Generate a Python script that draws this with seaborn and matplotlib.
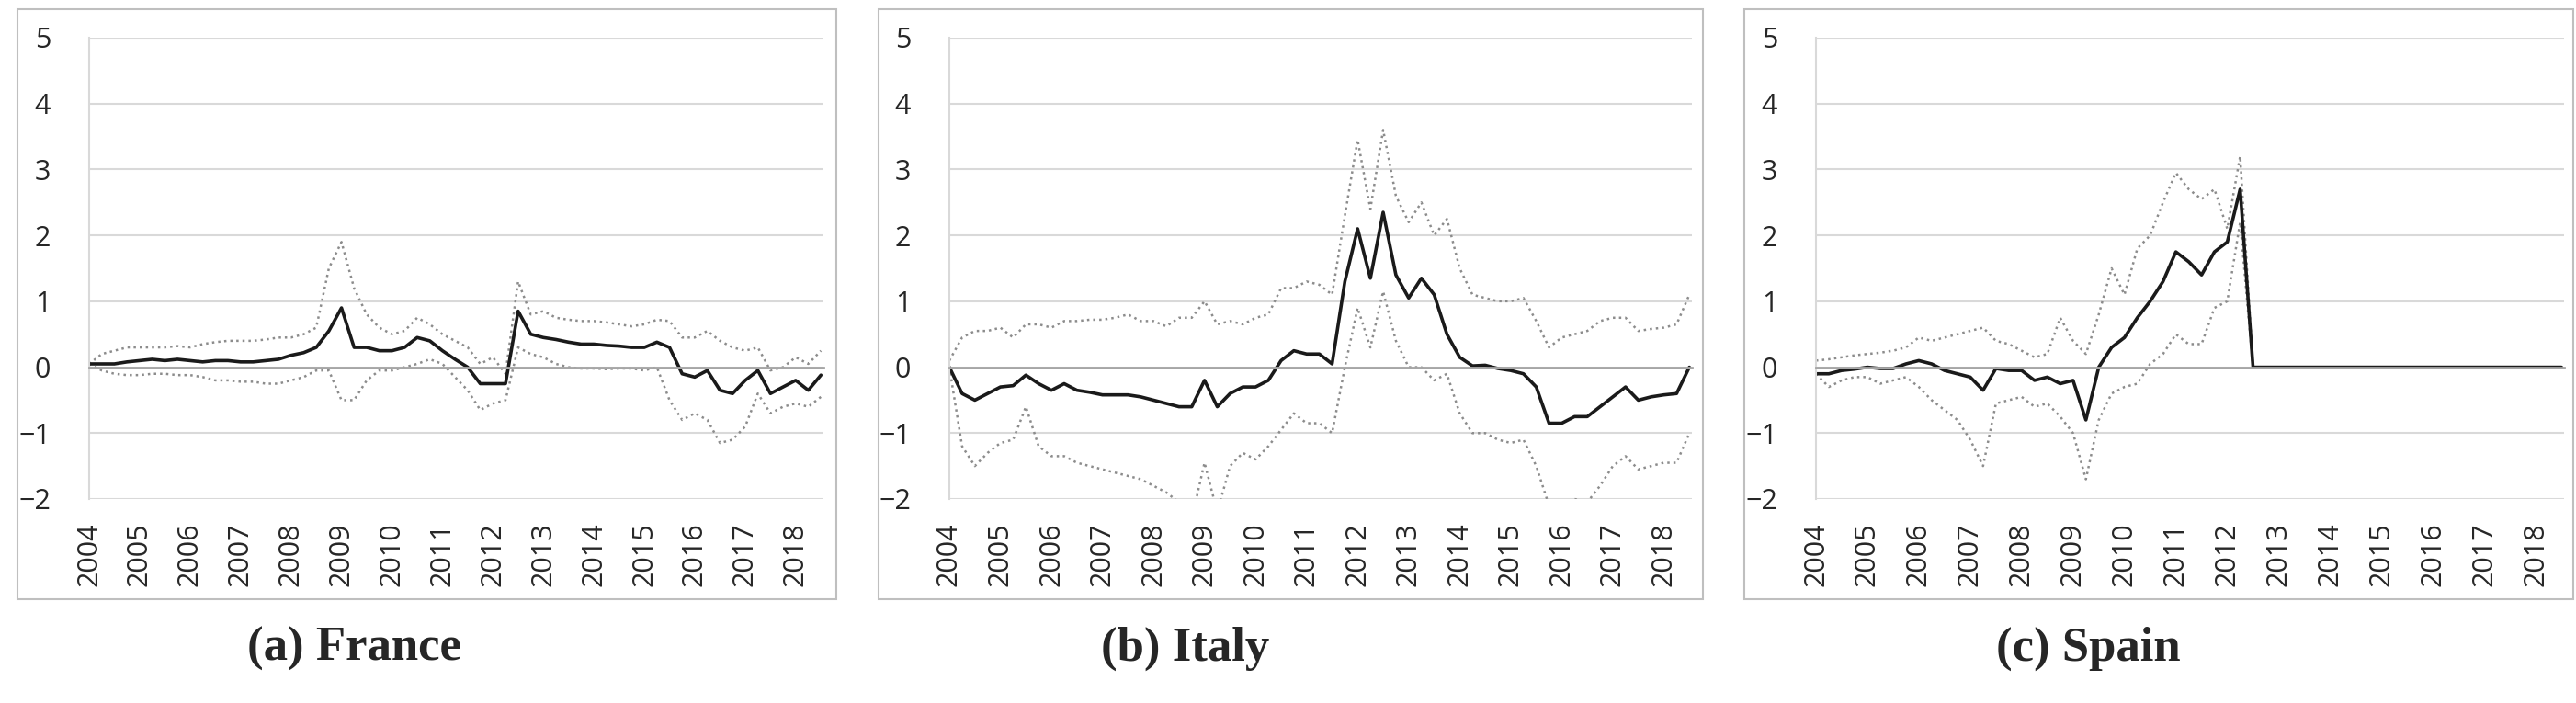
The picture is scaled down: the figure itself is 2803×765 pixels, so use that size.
import numpy as np
import pandas as pd
import matplotlib
matplotlib.use('Agg')
import matplotlib.pyplot as plt
import seaborn as sns

# quarterly dates, Jan 2004 .. mid 2018
dates = [2004 + q / 4 for q in range(59)]
years = list(range(2004, 2019))

france_mean = [.05, .05, .05, .08, .1, .12, .1, .12, .1, .08, .1, .1, .08, .08, .1, .12,
               .18, .22, .3, .55, .9, .3, .3, .25, .25, .3, .45, .4, .25, .12, 0, -.25,
               -.25, -.25, .85, .5, .45, .42, .38, .35, .35, .33, .32, .3, .3, .38, .3, -.1,
               -.15, -.05, -.35, -.4, -.2, -.05, -.4, -.3, -.2, -.35, -.12]
france_upper = [.05, .2, .25, .3, .3, .3, .3, .32, .3, .35, .38, .4, .4, .4, .42, .45,
                .45, .5, .6, 1.5, 1.9, 1.2, .8, .6, .5, .55, .75, .65, .5, .4, .3, .05,
                .15, -.1, 1.3, .8, .85, .75, .72, .7, .7, .68, .65, .62, .65, .72, .7, .45,
                .45, .55, .4, .3, .25, .3, -.05, 0, .15, .05, .25]
france_lower = [.05, -.05, -.1, -.12, -.12, -.1, -.1, -.12, -.12, -.15, -.2, -.2, -.22, -.22, -.25, -.25,
                -.2, -.15, -.05, -.05, -.5, -.5, -.2, -.05, -.05, 0, .05, .12, .05, -.15, -.35, -.65,
                -.55, -.5, .3, .2, .15, .05, 0, -.02, -.02, -.03, -.02, -.02, -.05, 0, -.5, -.8,
                -.7, -.8, -1.15, -1.1, -.9, -.4, -.7, -.6, -.55, -.6, -.45]

italy_mean = [0, -.4, -.5, -.4, -.3, -.28, -.12, -.25, -.35, -.25, -.35, -.38, -.42, -.42, -.42, -.45,
              -.5, -.55, -.6, -.6, -.2, -.6, -.4, -.3, -.3, -.2, .1, .25, .2, .2, .05, 1.3,
              2.1, 1.35, 2.35, 1.4, 1.05, 1.35, 1.1, .5, .15, .02, .03, -.02, -.05, -.1, -.3, -.85,
              -.85, -.75, -.75, -.6, -.45, -.3, -.5, -.45, -.42, -.4, 0]
italy_upper = [.1, .45, .55, .55, .6, .45, .65, .65, .6, .7, .7, .72, .72, .75, .8, .7,
               .7, .62, .75, .75, 1.0, .65, .7, .65, .75, .8, 1.2, 1.2, 1.3, 1.25, 1.1, 2.3,
               3.45, 2.4, 3.6, 2.6, 2.2, 2.5, 2.0, 2.25, 1.5, 1.1, 1.05, 1.0, 1.0, 1.05, .7, .3,
               .45, .5, .55, .7, .75, .75, .55, .58, .6, .65, 1.1]
italy_lower = [0, -1.2, -1.5, -1.3, -1.15, -1.1, -.6, -1.2, -1.35, -1.35, -1.45, -1.5, -1.55, -1.6, -1.65, -1.7,
               -1.8, -1.9, -2.05, -2.3, -1.45, -2.2, -1.5, -1.3, -1.4, -1.2, -.95, -.7, -.85, -.85, -1.0, 0,
               .9, .3, 1.15, .4, 0, 0, -.2, -.1, -.7, -1.0, -1.0, -1.1, -1.15, -1.1, -1.5, -2.1,
               -2.1, -2.0, -2.05, -1.8, -1.5, -1.35, -1.55, -1.5, -1.45, -1.45, -1.0]

spain_mean = [-.1, -.1, -.05, -.03, 0, -.02, -.02, .05, .1, .05, -.05, -.1, -.15, -.35, -.02, -.05,
              -.05, -.2, -.15, -.25, -.2, -.8, 0, .3, .45, .75, 1.0, 1.3, 1.75, 1.6, 1.4, 1.75,
              1.9, 2.7] + [0] * 25
spain_upper = [.1, .12, .15, .18, .2, .22, .25, .3, .45, .4, .45, .5, .55, .6, .4, .35,
               .25, .15, .2, .75, .4, .2, .8, 1.5, 1.1, 1.8, 2.0, 2.5, 2.95, 2.7, 2.55, 2.7,
               2.1, 3.2] + [0] * 25
spain_lower = [-.1, -.3, -.2, -.15, -.15, -.25, -.2, -.15, -.3, -.5, -.65, -.8, -1.1, -1.5, -.55, -.5,
               -.45, -.6, -.55, -.75, -1.0, -1.7, -.8, -.4, -.3, -.25, .05, .2, .5, .35, .35, .9,
               1.0, 2.2] + [0] * 25

panels = [
    ('(a) France', france_mean, france_upper, france_lower),
    ('(b) Italy', italy_mean, italy_upper, italy_lower),
    ('(c) Spain', spain_mean, spain_upper, spain_lower),
]

W, H = 2803, 765
fig = plt.figure(figsize=(W / 100, H / 100), dpi=100)
sns.set_style('white')
plt.rcParams['font.family'] = ['Open Sans', 'DejaVu Sans']

# pixel layout: (frame left, frame right, plot left, plot right, caption x)
layout = [(19, 910, 97, 896, 385),
          (956, 1853, 1033, 1841, 1290),
          (1898, 2800, 1976, 2790, 2272)]
plot_top, plot_bot = 41, 543
frame_top, frame_bot = 10, 652

for (caption, mean, upper, lower), (fl, fr, pl, pr, cx) in zip(panels, layout):
    # panel frame
    fig.patches.append(plt.Rectangle((fl / W, 1 - frame_bot / H), (fr - fl) / W,
                                     (frame_bot - frame_top) / H, transform=fig.transFigure,
                                     fill=False, edgecolor='#bfbfbf', linewidth=1.5))
    ax = fig.add_axes([pl / W, 1 - plot_bot / H, (pr - pl) / W, (plot_bot - plot_top) / H])
    df = pd.DataFrame({'date': dates * 3,
                       'value': upper + lower + mean,
                       'band': ['upper'] * 59 + ['lower'] * 59 + ['mean'] * 59})
    band = df[df['band'] != 'mean']
    sns.lineplot(data=band, x='date', y='value', units='band', estimator=None,
                 color='#8c8c8c', linestyle=':', linewidth=1.8, ax=ax)
    sns.lineplot(data=df[df['band'] == 'mean'], x='date', y='value',
                 color='#1a1a1a', linewidth=2.6, ax=ax)

    ax.set_xlim(2004, 2018.55)
    ax.set_ylim(-2, 5)
    ax.set_yticks(range(-2, 6))
    ax.yaxis.grid(True, color='#d9d9d9', linewidth=1.5)
    ax.set_axisbelow(True)
    for s in ['top', 'right', 'bottom']:
        ax.spines[s].set_visible(False)
    ax.spines['left'].set_color('#d9d9d9')
    ax.spines['left'].set_linewidth(1.5)

    # category-style axis sitting on zero with year ticks crossing it
    ax.spines['bottom'].set_visible(True)
    ax.spines['bottom'].set_position(('data', 0))
    ax.spines['bottom'].set_color('#a6a6a6')
    ax.spines['bottom'].set_linewidth(2)
    ax.set_xticks(years)
    ax.tick_params(axis='x', direction='inout', length=26, width=1.5, color='#a6a6a6',
                   labelbottom=False)
    ax.tick_params(axis='y', length=0, labelsize=22, pad=30, labelcolor='#262626')

    sec = ax.secondary_xaxis(0)
    sec.set_xticks(years)
    sec.set_xticklabels([str(y) for y in years], rotation=90, fontsize=22, color='#262626')
    sec.tick_params(length=0, pad=18)
    sec.spines['bottom'].set_visible(False)

    ax.set_xlabel('')
    ax.set_ylabel('')
    if ax.get_legend():
        ax.get_legend().remove()

    fig.text(cx / W, 1 - 706 / H, caption, ha='center', va='center', fontsize=38,
             fontweight='bold', family=['Liberation Serif', 'DejaVu Serif'])

fig.savefig('out.png', dpi=100)
